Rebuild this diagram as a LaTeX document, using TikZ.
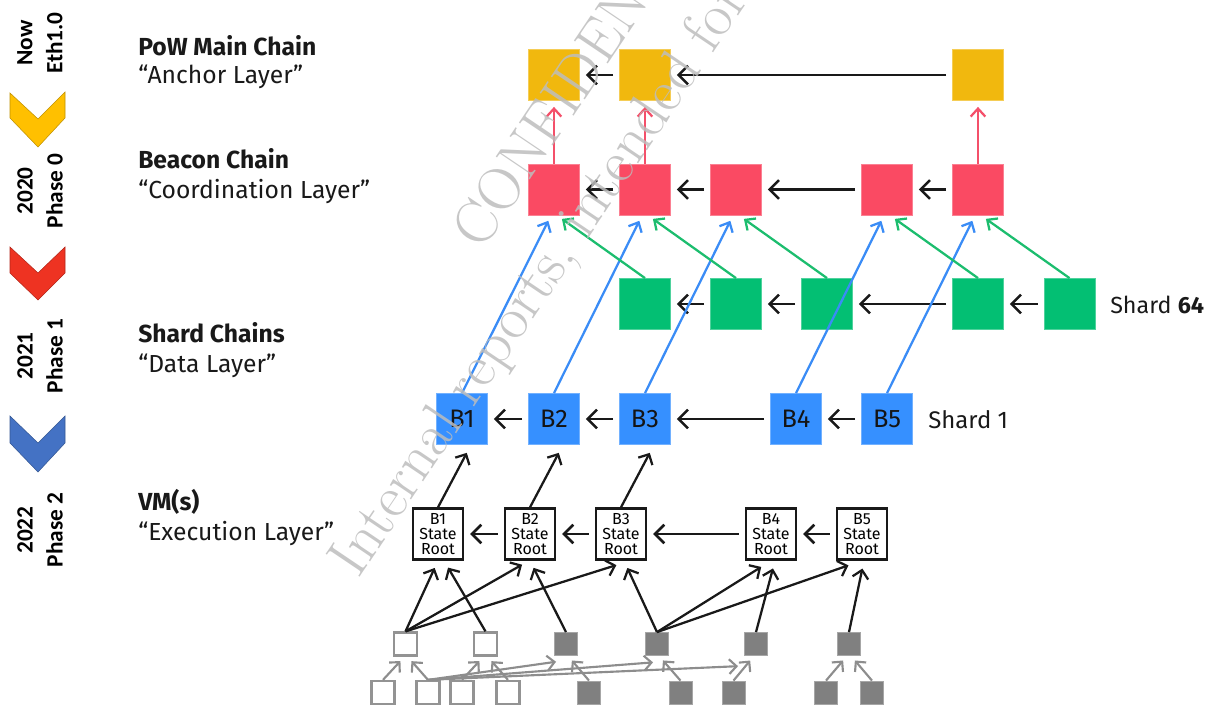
\documentclass[tikz,border=0pt]{standalone}
\usepackage{fontspec}
\usetikzlibrary{arrows.meta,calc}
\newfontfamily\plexfont{Fira Sans}
\newfontfamily\califont{Carlito}

\definecolor{anchorgold}{HTML}{F1B80E}
\definecolor{beaconred}{HTML}{FA4A63}
\definecolor{shardgreen}{HTML}{03BF73}
\definecolor{datablue}{HTML}{3690FF}
\definecolor{vmgray}{HTML}{808080}
\definecolor{chevgold}{HTML}{FFC000}
\definecolor{chevred}{HTML}{EE3322}
\definecolor{chevblue}{HTML}{4472C4}
\definecolor{redlink}{HTML}{F4506A}
\definecolor{greenlink}{HTML}{1CBD6E}
\definecolor{bluelink}{HTML}{3A8CF6}
\definecolor{stampgray}{HTML}{BDBDBD}

\begin{document}
\begin{tikzpicture}[x=0.75pt,y=-0.75pt,
  sq/.style={minimum size=38.25pt, inner sep=0pt, fill=#1, draw=#1!70!white, line width=0.6pt},
  blocktext/.style={font=\plexfont\fontsize{19}{22}\selectfont, text=black!92},
  rootbox/.style={minimum width=37.5pt, minimum height=38.25pt, inner sep=0pt, draw=black!90,
    line width=1.8pt, fill=white, align=center, font=\plexfont\fontsize{12}{11.25}\selectfont},
  leaf/.style={minimum size=17.25pt, inner sep=0pt, draw=vmgray!85!white, line width=1.7pt, fill=white},
  leaffull/.style={minimum size=17.25pt, inner sep=0pt, fill=vmgray, draw=vmgray!70!white, line width=0.6pt},
  link/.style={-{Straight Barb[length=7pt,width=14pt]}, line width=1.9pt, draw=black!90,
    shorten <=4.5pt, shorten >=4.5pt},
  uplink/.style={-{Straight Barb[length=6pt,width=11pt]}, line width=1.7pt, draw=#1, shorten >=4.5pt},
  treelink/.style={-{Straight Barb[length=6pt,width=12pt]}, line width=1.7pt, draw=black!90, shorten >=6pt},
  leaflink/.style={-{Straight Barb[length=5.5pt,width=11pt]}, line width=1.6pt, draw=vmgray!90, shorten >=4.5pt},
  layertitle/.style={anchor=base west, inner sep=0pt, font=\plexfont\bfseries\fontsize{18.5}{22}\selectfont, text=black!90},
  layername/.style={anchor=base west, inner sep=0pt, font=\plexfont\fontsize{18.5}{22}\selectfont, text=black!90},
  phase/.style={rotate=90, align=center, inner sep=0pt, font=\califont\bfseries\fontsize{17.5}{22.5}\selectfont},
  shardname/.style={anchor=base west, inner sep=0pt, font=\plexfont\fontsize{17.5}{20}\selectfont, text=black!90},
  stamp/.style={rotate=56, anchor=base west, inner sep=0pt, font=\rmfamily\fontsize{45}{50}\selectfont,
    text=stampgray, text opacity=0.85}
]
\useasboundingbox (0,0) rectangle (1211,704);
\clip (0,0) rectangle (1211,704);

% timeline chevrons and phase labels
\filldraw[fill=chevgold, draw=chevgold!75!black, line width=0.4pt]
  (10,93) -- (38,119) -- (65,92) -- (65,118) -- (38,147) -- (10,118) -- cycle;
\filldraw[fill=chevred, draw=chevred!75!black, line width=0.4pt]
  (10,247) -- (38,273) -- (65,247) -- (65,273) -- (38,300) -- (10,273) -- cycle;
\filldraw[fill=chevblue, draw=chevblue!75!black, line width=0.4pt]
  (10,416) -- (38,443) -- (65,416) -- (65,443) -- (38,472) -- (10,443) -- cycle;

\node[phase] (p0) at (40,43) {Now\\Eth1.0};
\node[phase] (p1) at (40,191) {2020\\Phase 0};
\node[phase] (p2) at (40,356) {2021\\Phase 1};
\node[phase] (p3) at (40,530) {2022\\Phase 2};

% layer captions
\node[layertitle] (t-pow) at (138,55) {PoW Main Chain};
\node[layername] (n-pow) at (138,83) {“Anchor Layer”};
\node[layertitle] (t-beacon) at (138,168) {Beacon Chain};
\node[layername] (n-beacon) at (138,198) {“Coordination Layer”};
\node[layertitle] (t-shard) at (138,342) {Shard Chains};
\node[layername] (n-shard) at (138,372) {“Data Layer”};
\node[layertitle] (t-vm) at (138,510) {VM(s)};
\node[layername] (n-vm) at (138,540) {“Execution Layer”};

% PoW main chain
\node[sq=anchorgold] (g2) at (554,75) {};
\node[sq=anchorgold] (g3) at (645,75) {};
\node[sq=anchorgold] (g7) at (978,75) {};

% beacon chain
\node[sq=beaconred] (r2) at (554,189.5) {};
\node[sq=beaconred] (r3) at (645,189.5) {};
\node[sq=beaconred] (r4) at (736,189.5) {};
\node[sq=beaconred] (r6) at (887,189.5) {};
\node[sq=beaconred] (r7) at (978,189.5) {};

% shard 64
\node[sq=shardgreen] (s3) at (645,304) {};
\node[sq=shardgreen] (s4) at (736,304) {};
\node[sq=shardgreen] (s5) at (827,304) {};
\node[sq=shardgreen] (s7) at (978,304) {};
\node[sq=shardgreen] (s8) at (1069.5,304) {};
\node[shardname] (lab64) at (1110,313) {Shard \textbf{64}};

% shard 1
\node[sq=datablue, blocktext] (b1) at (462,419) {B1};
\node[sq=datablue, blocktext] (b2) at (554,419) {B2};
\node[sq=datablue, blocktext] (b3) at (645,419) {B3};
\node[sq=datablue, blocktext] (b4) at (796,419) {B4};
\node[sq=datablue, blocktext] (b5) at (887,419) {B5};
\node[shardname, font=\plexfont\fontsize{18}{20}\selectfont] (lab1) at (928,428) {Shard 1};

% state roots
\node[rootbox] (sr1) at (438,534) {B1\\State\\Root};
\node[rootbox] (sr2) at (530,534) {B2\\State\\Root};
\node[rootbox] (sr3) at (621,534) {B3\\State\\Root};
\node[rootbox] (sr4) at (771,534) {B4\\State\\Root};
\node[rootbox] (sr5) at (862,534) {B5\\State\\Root};

% state trie, upper level
\node[leaf] (t1) at (405.5,644) {};
\node[leaf] (t2) at (485.5,644) {};
\node[leaffull] (t3) at (566,644) {};
\node[leaffull] (t4) at (657,644) {};
\node[leaffull] (t5) at (756,644) {};
\node[leaffull] (t6) at (849,644) {};

% state trie, lower level
\node[leaf] (u1) at (383,692.5) {};
\node[leaf] (u2) at (428,692.5) {};
\node[leaf] (u3) at (462,692.5) {};
\node[leaf] (u4) at (508,692.5) {};
\node[leaffull] (u5) at (589,692.5) {};
\node[leaffull] (u6) at (680.5,692.5) {};
\node[leaffull] (u7) at (733.5,692.5) {};
\node[leaffull] (u8) at (826,692.5) {};
\node[leaffull] (u9) at (872,692.5) {};

% chain links
\draw[link] (g3.west) -- (g2.east);
\draw[link] (g7.west) -- (g3.east);
\draw[link] (r3.west) -- (r2.east);
\draw[link] (r4.west) -- (r3.east);
\draw[link] (r6.west) -- (r4.east);
\draw[link] (r7.west) -- (r6.east);
\draw[link] (s4.west) -- (s3.east);
\draw[link] (s5.west) -- (s4.east);
\draw[link] (s7.west) -- (s5.east);
\draw[link] (s8.west) -- (s7.east);
\draw[link] (b2.west) -- (b1.east);
\draw[link] (b3.west) -- (b2.east);
\draw[link] (b4.west) -- (b3.east);
\draw[link] (b5.west) -- (b4.east);
\draw[link] (sr2.west) -- (sr1.east);
\draw[link] (sr3.west) -- (sr2.east);
\draw[link] (sr4.west) -- (sr3.east);
\draw[link] (sr5.west) -- (sr4.east);

% beacon blocks anchored in the main chain
\draw[uplink=redlink] (r2.north) -- (g2.south);
\draw[uplink=redlink] (r3.north) -- (g3.south);
\draw[uplink=redlink] (r7.north) -- (g7.south);

% crosslinks into the beacon chain
\draw[uplink=bluelink] (b1.north) -- ($(r2.south)+(-3,0)$);
\draw[uplink=bluelink] (b2.north) -- ($(r3.south)+(-3,0)$);
\draw[uplink=bluelink] (b3.north) -- ($(r4.south)+(-3,0)$);
\draw[uplink=bluelink] (b4.north) -- ($(r6.south)+(-3,0)$);
\draw[uplink=bluelink] (b5.north) -- ($(r7.south)+(-3,0)$);
\draw[uplink=greenlink] (s3.north) -- ($(r2.south)+(3,0)$);
\draw[uplink=greenlink] (s4.north) -- ($(r3.south)+(3,0)$);
\draw[uplink=greenlink] (s5.north) -- ($(r4.south)+(3,0)$);
\draw[uplink=greenlink] (s7.north) -- ($(r6.south)+(3,0)$);
\draw[uplink=greenlink] (s8.north) -- ($(r7.south)+(3,0)$);

% state roots committed in shard blocks
\draw[treelink, shorten >=6.75pt] (sr1.north) -- ($(b1.south)+(9,0)$);
\draw[treelink, shorten >=6.75pt] (sr2.north) -- ($(b2.south)+(9,0)$);
\draw[treelink, shorten >=6.75pt] (sr3.north) -- ($(b3.south)+(9,0)$);

% trie nodes into state roots
\draw[treelink] (t1.north) -- (sr1.south);
\draw[treelink] (t1.north) -- ($(sr2.south)+(-1,0)$);
\draw[treelink] (t1.north) -- ($(sr3.south)+(3,2)$);
\draw[treelink] (t2.north) -- ($(sr1.south)+(6,0)$);
\draw[treelink] (t3.north) -- (sr2.south);
\draw[treelink] (t4.north) -- ($(sr3.south)+(3,0)$);
\draw[treelink] (t4.north) -- ($(sr4.south)+(-3,2)$);
\draw[treelink] (t4.north) -- ($(sr5.south)+(-6,2)$);
\draw[treelink] (t5.north) -- ($(sr4.south)+(4,0)$);
\draw[treelink] (t6.north) -- ($(sr5.south)+(2,0)$);

% lower trie level into upper level
\draw[leaflink] (u1.north) -- ($(t1.south)+(-1,0)$);
\draw[leaflink] (u2.north) -- ($(t1.south)+(2,0)$);
\draw[leaflink] (u3.north) -- ($(t2.south)+(-2,0)$);
\draw[leaflink] (u4.north) -- ($(t2.south)+(2,0)$);
\draw[leaflink] (u2.north) -- ($(t3.south)+(-4,5)$);
\draw[leaflink] (u2.north) -- ($(t4.south)+(2,6)$);
\draw[leaflink] (u2.north) -- ($(t5.south)+(-12,10)$);
\draw[leaflink] (u5.north) -- ($(t3.south)+(2,0)$);
\draw[leaflink] (u6.north) -- ($(t4.south)+(2,0)$);
\draw[leaflink] (u7.north) -- ($(t5.south)+(-2,0)$);
\draw[leaflink] (u8.north) -- ($(t6.south)+(-2,0)$);
\draw[leaflink] (u9.north) -- ($(t6.south)+(2,0)$);

% stamp across the sheet
\node[stamp] (stamp1) at (482,252) {CONFIDENTIAL};
\node[stamp] (stamp2) at (358,580) {Internal reports, intended for};
\end{tikzpicture}
\end{document}
